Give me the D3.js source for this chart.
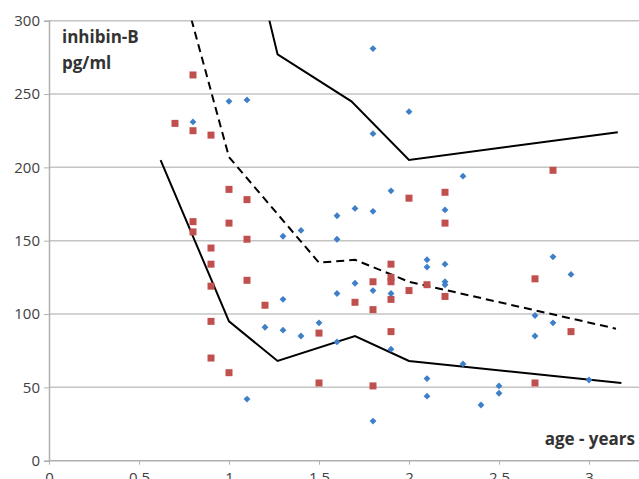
<!DOCTYPE html>
<html>
<head>
<meta charset="utf-8">
<script src="https://cdn.jsdelivr.net/npm/d3@7"></script>
<style>
  * { margin: 0; padding: 0; }
  body { background: #fff; }
  svg { display: block; font-family: "Open Sans", sans-serif; }
</style>
</head>
<body>
<svg id="chart" width="639" height="479"></svg>
<script>
// red squares
var redX = [0.7, 0.8, 0.8, 0.8, 0.8, 0.9, 0.9, 0.9, 0.9, 0.9, 0.9, 1.0, 1.0, 1.0,
  1.1, 1.1, 1.1, 1.2, 1.5, 1.5, 1.7, 1.8, 1.8, 1.8, 1.9, 1.9, 1.9, 1.9, 1.9,
  2.0, 2.0, 2.1, 2.2, 2.2, 2.2, 2.7, 2.7, 2.8, 2.9];
var redY = [230, 263, 225, 163, 156, 222, 145, 134, 119, 95, 70, 185, 162, 60,
  178, 151, 123, 106, 87, 53, 108, 122, 103, 51, 134, 125, 122, 110, 88,
  179, 116, 120, 183, 162, 112, 124, 53, 198, 88];

// blue diamonds
var blueX = [0.8, 1.0, 1.1, 1.1, 1.2, 1.3, 1.3, 1.3, 1.4, 1.4, 1.5, 1.6, 1.6, 1.6, 1.6,
  1.7, 1.7, 1.8, 1.8, 1.8, 1.8, 1.8, 1.9, 1.9, 1.9, 2.0, 2.1, 2.1, 2.1, 2.1,
  2.2, 2.2, 2.2, 2.2, 2.3, 2.3, 2.4, 2.5, 2.5, 2.7, 2.7, 2.8, 2.8, 2.9, 3.0];
var blueY = [231, 245, 246, 42, 91, 153, 110, 89, 157, 85, 94, 167, 151, 114, 81,
  172, 121, 281, 223, 170, 116, 27, 184, 114, 76, 238, 137, 132, 56, 44,
  171, 134, 122, 120, 194, 66, 38, 51, 46, 99, 85, 139, 94, 127, 55];

// percentile curves
var lowX = [0.62, 1.0, 1.27, 1.7, 2.0, 3.18];
var lowY = [205, 95, 68, 85, 68, 53];
var midX = [0.62, 1.0, 1.5, 1.7, 2.0, 3.15];
var midY = [378, 207, 135, 137, 122, 90];
var highX = [1.0, 1.27, 1.68, 2.0, 3.16];
var highY = [414, 277, 245, 205, 224];

var xTicks = [0, 0.5, 1, 1.5, 2, 2.5, 3];
var yTicks = [0, 50, 100, 150, 200, 250, 300];

var svg = d3.select("#chart");
var pLeft = 49, pRight = 639, pTop = 20.7, pBottom = 460.7;

var x = d3.scaleLinear().domain([0, 3]).range([pLeft, 589]);
var y = d3.scaleLinear().domain([0, 300]).range([pBottom, pTop]);

svg.append("defs").append("clipPath").attr("id", "plot")
  .append("rect")
  .attr("x", pLeft).attr("y", pTop)
  .attr("width", pRight - pLeft).attr("height", pBottom - pTop);

// gridlines
svg.append("g").selectAll("line")
  .data(yTicks.filter(function (d) { return d > 0; }))
  .enter().append("line")
  .attr("x1", pLeft).attr("x2", pRight)
  .attr("y1", function (d) { return y(d); })
  .attr("y2", function (d) { return y(d); })
  .attr("stroke", "#c4c4c4").attr("stroke-width", 1.5);

// axes
var yAxis = svg.append("g")
  .attr("transform", "translate(" + pLeft + ",0)")
  .call(d3.axisLeft(y).tickValues(yTicks).tickSize(5).tickPadding(4));
var xAxis = svg.append("g")
  .attr("transform", "translate(0," + pBottom + ")")
  .call(d3.axisBottom(x).tickValues(xTicks).tickSize(4).tickPadding(8)
    .tickFormat(function (d) { return d; }));

yAxis.select(".domain").attr("stroke", "#b0b0b0").attr("stroke-width", 1.5);
xAxis.select(".domain").remove();
xAxis.append("line").attr("x1", pLeft).attr("x2", pRight)
  .attr("stroke", "#b0b0b0").attr("stroke-width", 1.5);
svg.selectAll(".tick line").attr("stroke", "#b0b0b0");
svg.selectAll(".tick text")
  .attr("fill", "#404040")
  .style("font-size", "15px")
  .style("font-family", "'Open Sans', sans-serif");

// curves
var line = d3.line()
  .x(function (d) { return x(d[0]); })
  .y(function (d) { return y(d[1]); });

var curves = svg.append("g").attr("clip-path", "url(#plot)");
function curve(xs, ys, dash) {
  curves.append("path")
    .attr("d", line(d3.zip(xs, ys)))
    .attr("fill", "none")
    .attr("stroke", "#000")
    .attr("stroke-width", 2)
    .attr("stroke-dasharray", dash);
}
curve(lowX, lowY, null);
curve(midX, midY, "8,5");
curve(highX, highY, null);

// points
svg.append("g").selectAll("rect")
  .data(d3.zip(redX, redY))
  .enter().append("rect")
  .attr("x", function (d) { return x(d[0]) - 3.5; })
  .attr("y", function (d) { return y(d[1]) - 3.5; })
  .attr("width", 7).attr("height", 7)
  .attr("fill", "#c0504d");

svg.append("g").selectAll("path")
  .data(d3.zip(blueX, blueY))
  .enter().append("path")
  .attr("transform", function (d) { return "translate(" + x(d[0]) + "," + y(d[1]) + ")"; })
  .attr("d", d3.symbol().type(d3.symbolDiamond2).size(30))
  .attr("fill", "#3f7fc8");

// labels
svg.append("text").attr("x", 62).attr("y", 43)
  .text("inhibin-B")
  .attr("fill", "#333").style("font-weight", "bold").style("font-size", "17px");
svg.append("text").attr("x", 62).attr("y", 69)
  .text("pg/ml")
  .attr("fill", "#333").style("font-weight", "bold").style("font-size", "17px");
svg.append("text").attr("x", 635).attr("y", 445)
  .attr("text-anchor", "end")
  .text("age - years")
  .attr("fill", "#333").style("font-weight", "bold").style("font-size", "17px");
</script>
</body>
</html>
